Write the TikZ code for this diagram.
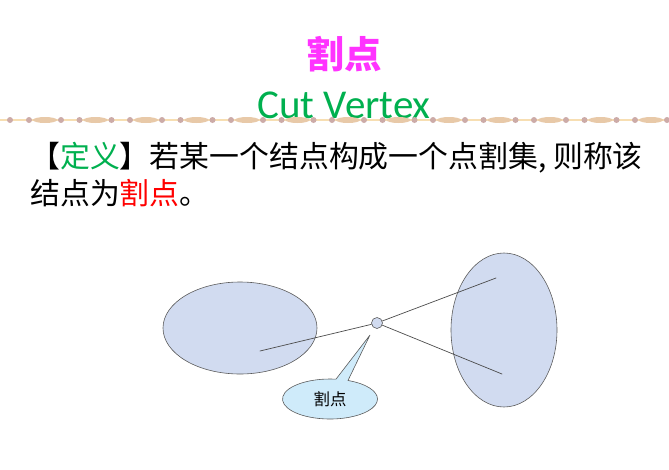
\documentclass[tikz,border=0pt]{standalone}
\usepackage{fontspec}
\setmainfont{Carlito}
\newfontfamily\cjk{Noto Sans CJK SC}
\usetikzlibrary{shapes.geometric,shapes.callouts,positioning}
\tikzstyle{every path}=[line width=0.5pt,line cap=round,line join=round]
\tikzstyle{blob}=[draw=black!65,fill=blobblue,ellipse,inner sep=0pt]
\tikzstyle{edge}=[draw=black!70,line width=0.6pt]

\begin{document}
\begin{tikzpicture}[x=0.03cm,y=-0.03cm]
\definecolor{blobblue}{rgb}{0.82,0.86,0.94}
\definecolor{tipcyan}{rgb}{0.81,0.92,0.98}
\definecolor{titlemag}{rgb}{1.00,0.20,1.00}
\definecolor{titlegreen}{rgb}{0.00,0.69,0.31}
\definecolor{beadline}{rgb}{0.97,0.87,0.70}
\definecolor{beadoval}{rgb}{0.91,0.79,0.66}
\definecolor{beaddot}{rgb}{0.80,0.67,0.66}
\useasboundingbox (0,0) rectangle (669,469);

% titles
\node (ttl) at (344,54) {\cjk\bfseries\fontsize{32}{32}\selectfont\color{titlemag}割点};
\node (sub) at (344,105) {\fontsize{35}{35}\selectfont\color{titlegreen}Cut Vertex};

% bead line
\draw [beadline,line width=1pt] (0,120) -- (669,120);
\fill [beaddot] (10,120) circle (0.09cm);
\foreach \k in {0,...,12}{
  \fill [beaddot] (29+50.5*\k,120) circle (0.09cm);
  \fill [beadoval] (45+50.5*\k,120) ellipse (0.36cm and 0.09cm);
  \fill [beaddot] (61+50.5*\k,120) circle (0.09cm);
}

% definition text
\node [anchor=west,inner sep=0pt] (def1) at (30,158)
  {\cjk\fontsize{25.5}{25.5}\selectfont 【{\color{titlegreen}定义}】若某一个结点构成一个点割集, 则称该};
\node [anchor=west,inner sep=0pt] (def2) at (30,193)
  {\cjk\fontsize{25.5}{25.5}\selectfont 结点为{\color{red}割点}。};

% graph
\node [blob,minimum width=4.62cm,minimum height=2.76cm] (left) at (240,328) {};
\node [blob,minimum width=3.18cm,minimum height=4.62cm] (right) at (504,330) {};
\node [blob,circle,minimum size=0.33cm] (cv) at (377,323) {};
\coordinate (a) at (260,351);
\coordinate (b) at (496,278);
\coordinate (c) at (502,374);
\draw [edge] (a) -- (cv);
\draw [edge] (cv) -- (b);
\draw [edge] (cv) -- (c);

\node [ellipse callout,draw=black!65,fill=tipcyan,minimum width=2.85cm,minimum height=1.2cm,
  callout absolute pointer={(370,335)},inner sep=0pt] (lbl) at (330,399)
  {\cjk\fontsize{14}{14}\selectfont 割点};
\end{tikzpicture}
\end{document}
